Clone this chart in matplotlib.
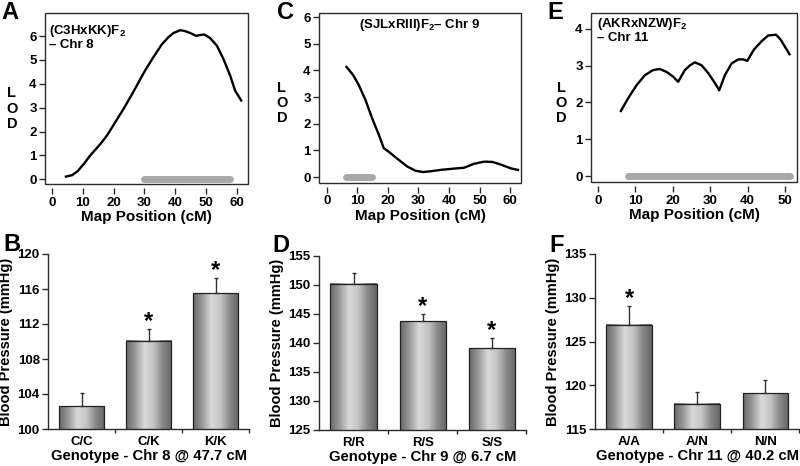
import matplotlib.pyplot as plt
import numpy as np
from matplotlib.colors import LinearSegmentedColormap
from matplotlib.patches import Rectangle

plt.rcParams['font.family'] = ['Liberation Sans', 'DejaVu Sans']
plt.rcParams['font.weight'] = 'bold'
plt.rcParams['mathtext.fontset'] = 'custom'
plt.rcParams['mathtext.rm'] = 'Liberation Sans:bold'
plt.rcParams['mathtext.bf'] = 'Liberation Sans:bold'
plt.rcParams['mathtext.default'] = 'rm'

# LOD scans (map position in cM, LOD score)
a_pos = [4.5, 6.5, 8.3, 10.3, 12.4, 15.7, 17.8, 20.5, 23.2, 25.9, 28.1, 30.2, 32.9, 35.6,
         37.8, 39.4, 41.6, 43.2, 45.4, 46.8, 47.7, 49.4, 51.3, 53.5, 55.6, 57.8, 59.4, 61.4]
a_lod = [0.11, 0.17, 0.34, 0.64, 1.0, 1.48, 1.83, 2.39, 2.95, 3.55, 4.07, 4.56, 5.12, 5.65,
         5.96, 6.13, 6.25, 6.21, 6.1, 6.01, 6.04, 6.07, 5.92, 5.6, 5.05, 4.35, 3.72, 3.3]
a_interval = [30.0, 57.8]

c_pos = [6.4, 8.5, 10.4, 12.6, 14.8, 17.0, 18.6, 20.8, 23.5, 26.3, 29.0, 31.5, 34.0, 37.2,
         41.6, 44.9, 48.2, 51.5, 54.2, 57.0, 60.2, 62.6]
c_lod = [4.13, 3.84, 3.46, 2.9, 2.21, 1.59, 1.09, 0.9, 0.65, 0.4, 0.24, 0.19, 0.22, 0.27,
         0.32, 0.35, 0.5, 0.58, 0.57, 0.47, 0.33, 0.27]
c_interval = [6.4, 14.8]

e_pos = [6.1, 8.0, 10.3, 12.5, 14.7, 16.5, 18.3, 20.1, 21.4, 23.2, 24.6, 25.9, 27.7, 29.5,
         31.3, 32.4, 33.9, 35.7, 37.5, 38.8, 39.9, 41.7, 43.8, 45.5, 47.6, 48.8, 50.0, 51.2]
e_lod = [1.77, 2.11, 2.47, 2.74, 2.88, 2.91, 2.83, 2.70, 2.56, 2.88, 3.01, 3.09, 3.01, 2.79,
         2.52, 2.33, 2.74, 3.06, 3.17, 3.17, 3.13, 3.44, 3.67, 3.82, 3.84, 3.71, 3.51, 3.31]
e_interval = [7.9, 51.2]

# blood pressure by genotype (mean, SE)
b_geno = ['C/C', 'C/K', 'K/K']
b_mean = [102.6, 110.1, 115.5]
b_err = [1.5, 1.3, 1.8]
b_sig = [False, True, True]

d_geno = ['R/R', 'R/S', 'S/S']
d_mean = [150.2, 143.7, 139.1]
d_err = [1.9, 1.3, 1.8]
d_sig = [False, True, True]

f_geno = ['A/A', 'A/N', 'N/N']
f_mean = [126.9, 117.9, 119.1]
f_err = [2.2, 1.3, 1.5]
f_sig = [True, False, False]

W, H = 800, 466
fig = plt.figure(figsize=(W / 100, H / 100), dpi=100)


def px_rect(left, top, right, bottom):
    return [left / W, 1 - bottom / H, (right - left) / W, (bottom - top) / H]


def fig_text(x, y, s, **kw):
    fig.text(x / W, 1 - y / H, s, **kw)


line_col = '#2b2b2b'


def lod_panel(rect, pos, lod, interval, xlim, ylim, xticks, yticks):
    ax = fig.add_axes(rect)
    ax.plot(pos, lod, color='black', lw=1.7, solid_joinstyle='round', zorder=3)
    ax.plot(interval, [0, 0], color='#a8a8a8', lw=5, solid_capstyle='round', zorder=2)
    ax.set_xlim(xlim)
    ax.set_ylim(ylim)
    ax.set_xticks(xticks)
    ax.set_yticks(yticks)
    for s in ['top', 'right', 'left']:
        ax.spines[s].set_color('none')
    ax.spines['bottom'].set_position(('outward', 3))
    ax.spines['bottom'].set_color('none')
    ax.add_patch(Rectangle((0, 0), 1, 1, transform=ax.transAxes, fill=False,
                           lw=1.0, edgecolor=line_col, clip_on=False, zorder=5))
    ax.tick_params(axis='both', direction='out', length=4, width=1.0, color=line_col,
                   labelsize=9.5, pad=2)
    ax.set_xlabel('Map Position (cM)', fontsize=11, fontweight='bold', labelpad=1)
    return ax


lod_panel(px_rect(45, 13, 248, 184), a_pos, a_lod, a_interval,
          (-2.3, 63.6), (-0.2, 6.97), range(0, 61, 10), range(0, 7))
lod_panel(px_rect(319, 13, 521, 183), c_pos, c_lod, c_interval,
          (-2.6, 63.6), (-0.22, 6.15), range(0, 61, 10), range(0, 7))
lod_panel(px_rect(591, 13, 797, 182), e_pos, e_lod, e_interval,
          (-1.9, 53.2), (-0.16, 4.43), range(0, 51, 10), range(0, 5))

for x, ys in [(12, (93, 109, 124)), (282, (88, 103, 118)), (561, (88, 103, 118))]:
    for letter, y in zip('LOD', ys):
        fig_text(x, y, letter, ha='center', va='center', fontsize=10.5)

fig_text(49, 31, r'(C3HxKK)F$_2$', ha='left', va='center', fontsize=9.5)
fig_text(49, 45, '– Chr 8', ha='left', va='center', fontsize=9.5)
fig_text(420, 25, r'(SJLxRIII)F$_2$– Chr 9', ha='center', va='center', fontsize=9.5)
fig_text(597, 24, r'(AKRxNZW)F$_2$', ha='left', va='center', fontsize=9.5)
fig_text(597, 38, '– Chr 11', ha='left', va='center', fontsize=9.5)

shade = LinearSegmentedColormap.from_list(
    'shade', ['#6a6a6a', '#9a9a9a', '#d9d9d9', '#c4c4c4', '#8a8a8a', '#666666'])
grad = np.linspace(0, 1, 64).reshape(1, -1)


def bp_panel(rect, geno, mean, err, sig, ylim, yticks, xlabel):
    ax = fig.add_axes(rect)
    x = np.arange(len(geno))
    bars = ax.bar(x, mean, width=0.67, bottom=0, facecolor='none', edgecolor='#222222',
                  lw=0.9, zorder=3)
    for b in bars:
        x0 = b.get_x()
        ax.imshow(grad, cmap=shade, aspect='auto', zorder=2, interpolation='bilinear',
                  extent=[x0, x0 + b.get_width(), ylim[0], b.get_height()])
    ax.errorbar(x, mean, yerr=[np.zeros(len(err)), err], fmt='none', ecolor='#333333',
                elinewidth=1.0, capsize=1.5, capthick=1.0, zorder=4)
    for xi, m, e, s in zip(x, mean, err, sig):
        if s:
            ax.annotate('*', (xi, m + e), xytext=(0, -3), textcoords='offset points',
                        ha='center', va='bottom', fontsize=17)
    ax.set_xlim(-0.5, 2.5)
    ax.set_ylim(ylim)
    ax.set_yticks(yticks)
    ax.set_xticks(x)
    ax.set_xticklabels(geno)
    ax.set_xticks([0.5, 1.5, 2.5], minor=True)
    ax.spines['top'].set_visible(False)
    ax.spines['right'].set_visible(False)
    for s in ['left', 'bottom']:
        ax.spines[s].set_color(line_col)
        ax.spines[s].set_linewidth(1.0)
    ax.tick_params(axis='y', direction='out', length=4, width=1.0, color=line_col,
                   labelsize=9.5, pad=2)
    ax.tick_params(axis='x', which='major', length=0, labelsize=9.5, pad=5)
    ax.tick_params(axis='x', which='minor', direction='out', length=3, width=1.0,
                   color=line_col)
    ax.set_ylabel('Blood Pressure (mmHg)', fontsize=10.5, fontweight='bold', labelpad=3)
    ax.set_xlabel(xlabel, fontsize=10.7, fontweight='bold', labelpad=1)
    return ax


bp_panel(px_rect(48, 254, 249.5, 429), b_geno, b_mean, b_err, b_sig,
         (100, 120), range(100, 121, 4), 'Genotype - Chr 8 @ 47.7 cM')
bp_panel(px_rect(319, 255.7, 526.3, 430), d_geno, d_mean, d_err, d_sig,
         (125, 155), range(125, 156, 5), 'Genotype - Chr 9 @ 6.7 cM')
bp_panel(px_rect(595, 254, 799.4, 429), f_geno, f_mean, f_err, f_sig,
         (115, 135), range(115, 136, 5), 'Genotype - Chr 11 @ 40.2 cM')

for letter, x, y in [('A', 10, 1), ('C', 285, 1), ('E', 555, 1),
                     ('B', 12, 233), ('D', 281, 234), ('F', 557, 234)]:
    fig_text(x, y, letter, ha='center', va='top', fontsize=17, fontweight='bold')

fig.savefig('out.png', dpi=100)
